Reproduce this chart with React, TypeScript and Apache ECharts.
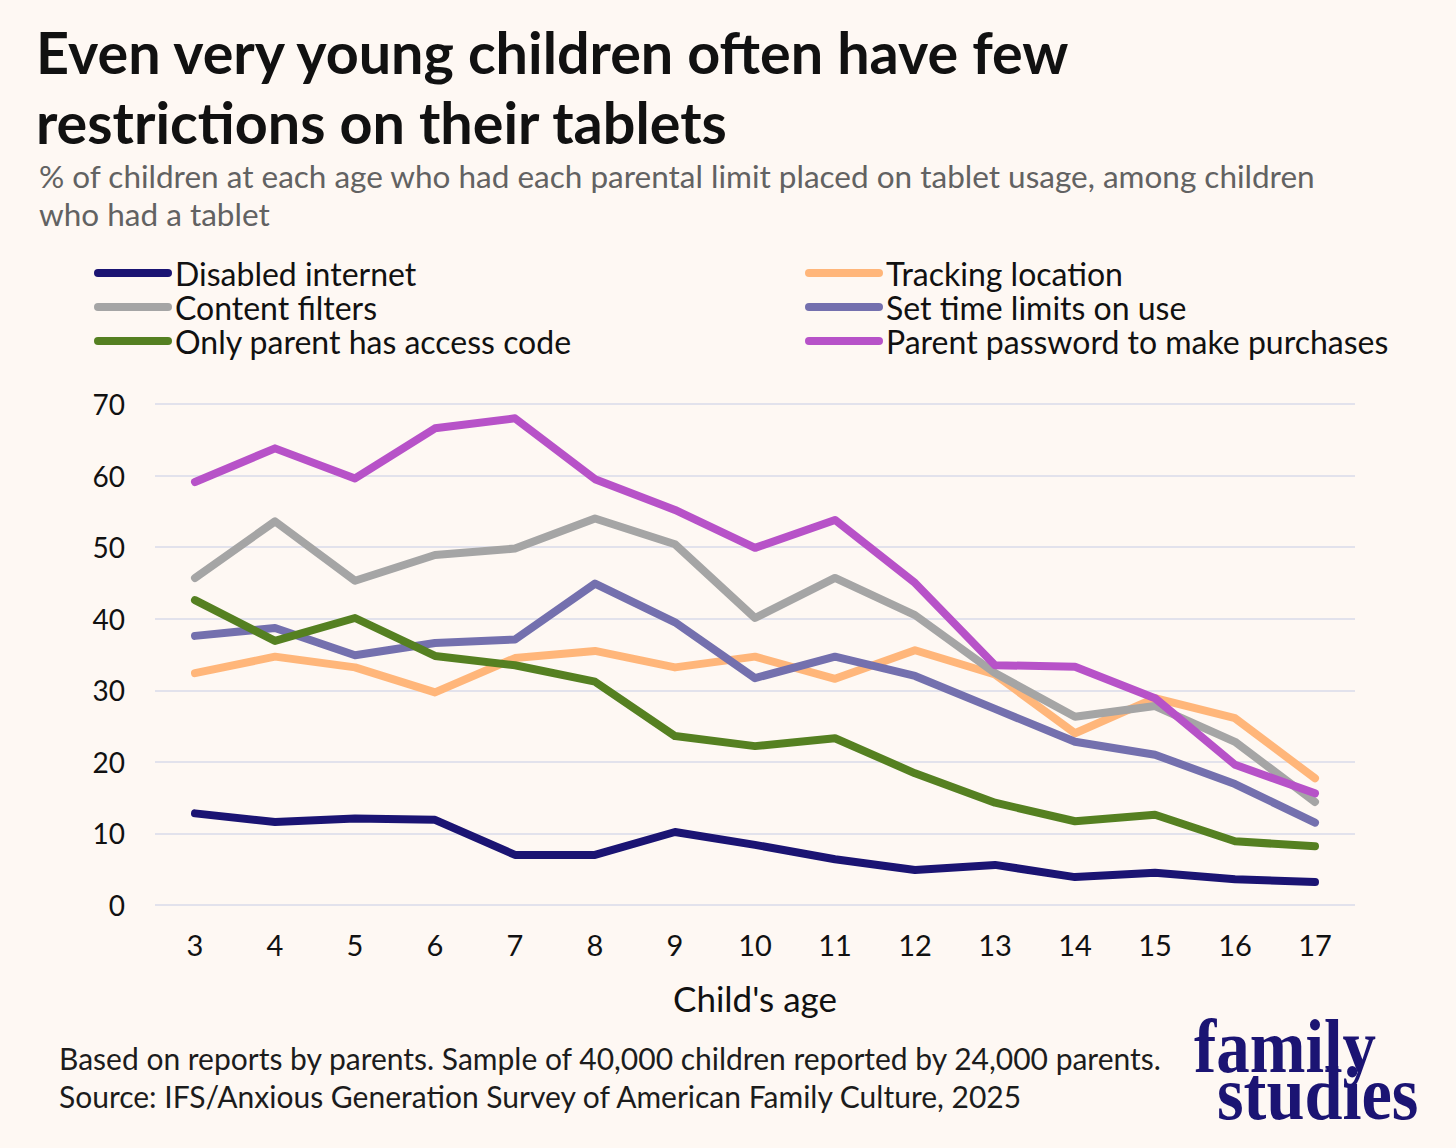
import React, { useEffect, useRef } from "react";
import * as echarts from "echarts";

const ages = ["3", "4", "5", "6", "7", "8", "9", "10", "11", "12", "13", "14", "15", "16", "17"];

const disabledInternet = [12.8, 11.6, 12.1, 11.9, 7.0, 7.0, 10.2, 8.4, 6.4, 4.9, 5.6, 3.9, 4.5, 3.6, 3.2];
const trackingLocation = [32.4, 34.7, 33.2, 29.7, 34.5, 35.5, 33.2, 34.7, 31.6, 35.6, 32.2, 24.0, 28.9, 26.1, 17.7];
const contentFilters = [45.7, 53.6, 45.3, 48.9, 49.8, 54.0, 50.4, 40.1, 45.7, 40.5, 32.4, 26.3, 27.8, 22.8, 14.4];
const timeLimits = [37.6, 38.7, 34.9, 36.6, 37.1, 44.9, 39.5, 31.7, 34.7, 32.0, 27.4, 22.8, 21.0, 16.9, 11.5];
const parentCode = [42.6, 36.9, 40.1, 34.8, 33.5, 31.2, 23.6, 22.2, 23.3, 18.4, 14.3, 11.7, 12.6, 8.9, 8.2];
const parentPassword = [59.1, 63.8, 59.6, 66.6, 68.0, 59.5, 55.2, 49.9, 53.8, 45.0, 33.5, 33.3, 28.9, 19.6, 15.6];

const seriesNames = [
  "Disabled internet",
  "Tracking location",
  "Content filters",
  "Set time limits on use",
  "Only parent has access code",
  "Parent password to make purchases",
];
const seriesColors = ["#1b1473", "#ffb67a", "#a5a5a5", "#7470ae", "#558021", "#b752c8"];
const seriesData = [disabledInternet, trackingLocation, contentFilters, timeLimits, parentCode, parentPassword];

const FONT = "Lato";
const legendIcon = "path://M4,0 H74 A4,4 0 0 1 74,8 H4 A4,4 0 0 1 4,0 Z";

const App: React.FC = () => {
  const chartRef = useRef<HTMLDivElement | null>(null);

  useEffect(() => {
    if (!chartRef.current) return;
    const chart = echarts.init(chartRef.current, null, { renderer: "svg" });

    // two legend columns, rows 34px apart like the original
    const legendBase = {
      orient: "vertical" as const,
      top: 256,
      padding: 0,
      itemWidth: 78,
      itemHeight: 8,
      itemGap: 0,
      icon: legendIcon,
      textStyle: {
        fontFamily: FONT,
        fontSize: 32,
        color: "#111",
        lineHeight: 34,
        padding: [0, 0, 0, -2],
      },
    };

    const option: echarts.EChartsOption = {
      animation: false,
      backgroundColor: "#fef8f3",
      title: [
        {
          text: "Even very young children often have few\nrestrictions on their tablets",
          left: 36,
          top: 16,
          padding: 0,
          textStyle: {
            fontFamily: FONT,
            fontSize: 57.5,
            fontWeight: "bold",
            color: "#111",
            lineHeight: 70,
          },
        },
        {
          text: "% of children at each age who had each parental limit placed on tablet usage, among children\nwho had a tablet",
          left: 39,
          top: 157,
          padding: 0,
          textStyle: {
            fontFamily: FONT,
            fontSize: 31.5,
            fontWeight: "normal",
            color: "#626262",
            lineHeight: 38,
          },
        },
        {
          text: "Based on reports by parents. Sample of 40,000 children reported by 24,000 parents.\nSource: IFS/Anxious Generation Survey of American Family Culture, 2025",
          left: 59,
          top: 1039,
          padding: 0,
          textStyle: {
            fontFamily: FONT,
            fontSize: 30,
            fontWeight: "normal",
            color: "#1c1c1c",
            lineHeight: 38,
          },
        },
      ],
      legend: [
        { ...legendBase, left: 94, data: [seriesNames[0], seriesNames[2], seriesNames[4]] },
        { ...legendBase, left: 805, data: [seriesNames[1], seriesNames[3], seriesNames[5]] },
      ],
      grid: { left: 155, right: 101, top: 404, bottom: 243 },
      xAxis: {
        type: "category",
        data: ages,
        boundaryGap: true,
        axisLine: { show: false },
        axisTick: { show: false },
        axisLabel: { fontFamily: FONT, fontSize: 29, color: "#111", margin: 25 },
        name: "Child's age",
        nameLocation: "middle",
        nameGap: 75,
        nameTextStyle: { fontFamily: FONT, fontSize: 35, color: "#111" },
      },
      yAxis: {
        type: "value",
        min: 0,
        max: 70,
        interval: 10,
        axisLine: { show: false },
        axisTick: { show: false },
        axisLabel: { fontFamily: FONT, fontSize: 28, color: "#111", margin: 30 },
        splitLine: { lineStyle: { color: "#e2e2ec", width: 2 } },
      },
      series: seriesNames.map((name, i) => ({
        name,
        type: "line" as const,
        data: seriesData[i],
        symbol: "none",
        lineStyle: { color: seriesColors[i], width: 8, cap: "round" as const, join: "round" as const },
        itemStyle: { color: seriesColors[i] },
      })),
      graphic: [
        {
          type: "text",
          left: 1194,
          top: 1008,
          scaleX: 0.88,
          style: {
            text: "family",
            fontFamily: "Liberation Serif",
            fontWeight: "bold",
            fontSize: 76,
            fill: "#1b1473",
          },
        },
        {
          type: "text",
          left: 1217,
          top: 1056,
          scaleX: 0.9,
          style: {
            text: "studies",
            fontFamily: "Liberation Serif",
            fontWeight: "bold",
            fontSize: 76,
            fill: "#1b1473",
          },
        },
      ],
    };

    chart.setOption(option);
    return () => chart.dispose();
  }, []);

  return (
    <div
      ref={chartRef}
      style={{ position: "fixed", left: 0, top: 0, width: "1456px", height: "1148px" }}
    />
  );
};

export default App;
